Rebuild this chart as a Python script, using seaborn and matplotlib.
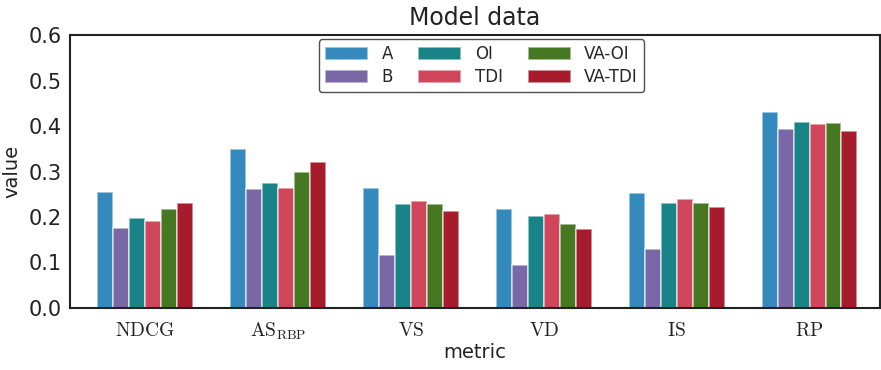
import numpy as np
import pandas as pd
import matplotlib
matplotlib.use("Agg")
import matplotlib.pyplot as plt
import seaborn as sns

metrics = [r"$\mathrm{NDCG}$", r"$\mathrm{AS}_{\mathrm{RBP}}$", r"$\mathrm{VS}$",
           r"$\mathrm{VD}$", r"$\mathrm{IS}$", r"$\mathrm{RP}$"]
models = ["A", "B", "OI", "TDI", "VA-OI", "VA-TDI"]

A = [0.255, 0.349, 0.264, 0.218, 0.253, 0.431]
B = [0.176, 0.261, 0.116, 0.095, 0.130, 0.393]
OI = [0.198, 0.274, 0.228, 0.202, 0.231, 0.409]
TDI = [0.191, 0.263, 0.236, 0.206, 0.240, 0.404]
VA_OI = [0.218, 0.298, 0.228, 0.185, 0.231, 0.406]
VA_TDI = [0.231, 0.321, 0.213, 0.173, 0.222, 0.389]

colors = ["#348ABD", "#7A68A6", "#188487", "#D0465A", "#467821", "#A61C2D"]

series = [A, B, OI, TDI, VA_OI, VA_TDI]
rows = []
for m, vals in zip(models, series):
    for met, v in zip(metrics, vals):
        rows.append({"metric": met, "value": v, "model": m})
df = pd.DataFrame(rows)

sns.set_style("white")
plt.rcParams["mathtext.fontset"] = "cm"
plt.rcParams["font.family"] = ["DejaVu Sans"]

fig = plt.figure(figsize=(8.81, 3.70), dpi=100)
ax = fig.add_axes([70 / 881, 1 - 308 / 370, 810 / 881, 273 / 370])

sns.barplot(data=df, x="metric", y="value", hue="model", hue_order=models,
            palette=colors, width=0.72, saturation=1,
            edgecolor=(1, 1, 1, 0.6), linewidth=1.2, ax=ax)

ax.set_ylim(0, 0.6)
ax.set_xlim(-0.565, 5.53)
ax.set_yticks(np.arange(0, 0.61, 0.1))
ax.tick_params(axis="y", labelsize=15, length=0, pad=6, labelcolor="#222222")
ax.tick_params(axis="x", labelsize=14, length=0, pad=9, labelcolor="#222222")
ax.set_title("Model data", fontsize=17, pad=7, color="#222222")
ax.set_xlabel("metric", fontsize=14, labelpad=1, color="#222222")
ax.set_ylabel("value", fontsize=14, labelpad=5, color="#222222")
for s in ax.spines.values():
    s.set_color("#222222")
    s.set_linewidth(1.5)

leg = ax.legend(ncol=3, loc="upper center", bbox_to_anchor=(0.508, 0.99),
                fontsize=12, frameon=True, handlelength=2.6, handleheight=0.8,
                columnspacing=1.5, labelspacing=0.3, borderpad=0.35,
                borderaxespad=0.1)
leg.get_frame().set_edgecolor("#222222")
leg.get_frame().set_linewidth(1.0)

fig.savefig("out.png", dpi=100)
